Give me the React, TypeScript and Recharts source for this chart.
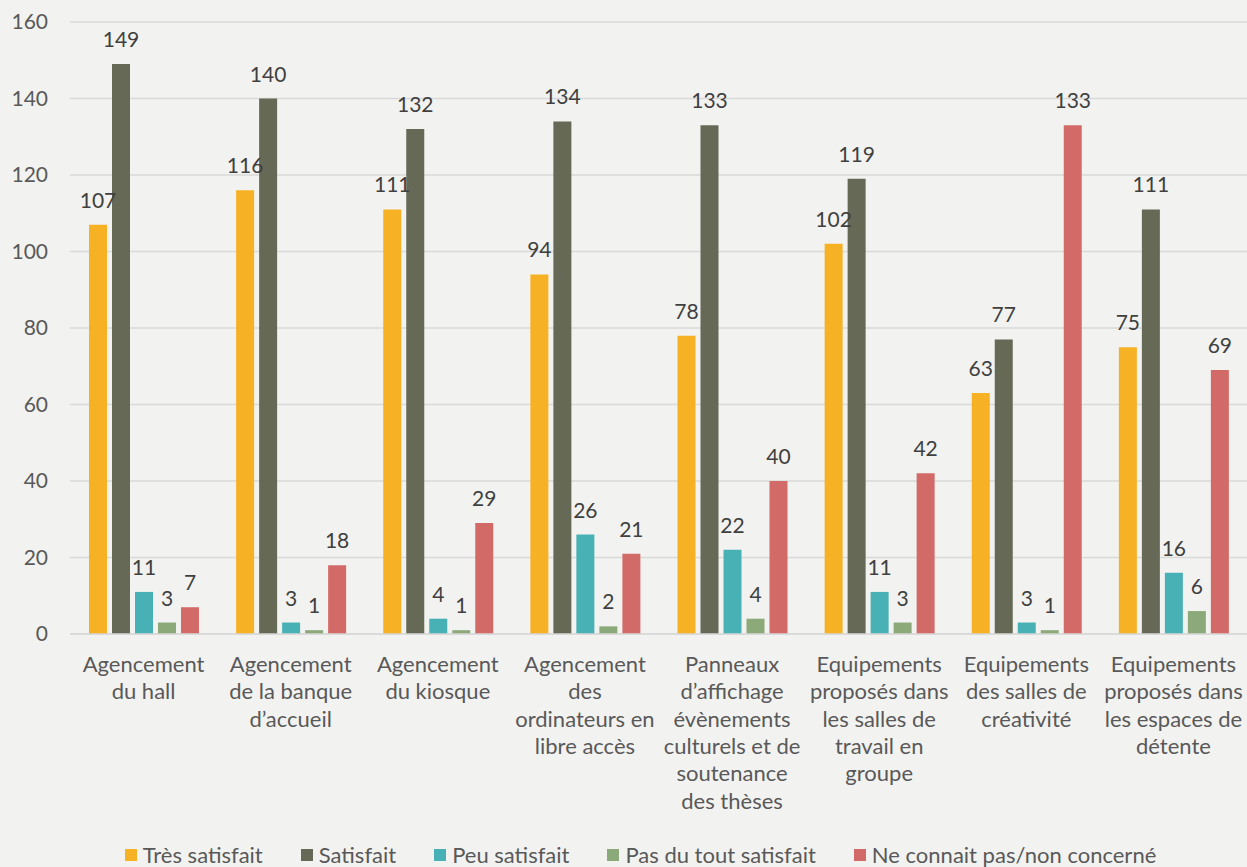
import React from 'react';
import { BarChart, Bar, XAxis, YAxis, CartesianGrid, Legend, LabelList } from 'recharts';

const categories = [
  'Agencement\ndu hall',
  'Agencement\nde la banque\nd’accueil',
  'Agencement\ndu kiosque',
  'Agencement\ndes\nordinateurs en\nlibre accès',
  'Panneaux\nd’affichage\névènements\nculturels et de\nsoutenance\ndes thèses',
  'Equipements\nproposés dans\nles salles de\ntravail en\ngroupe',
  'Equipements\ndes salles de\ncréativité',
  'Equipements\nproposés dans\nles espaces de\ndétente',
];
const tresSatisfait = [107, 116, 111, 94, 78, 102, 63, 75];
const satisfait = [149, 140, 132, 134, 133, 119, 77, 111];
const peuSatisfait = [11, 3, 4, 26, 22, 11, 3, 16];
const pasDuToutSatisfait = [3, 1, 1, 2, 4, 3, 1, 6];
const neConnaitPas = [7, 18, 29, 21, 40, 42, 133, 69];
const yTicks = [0, 20, 40, 60, 80, 100, 120, 140, 160];

const seriesNames = ['Très satisfait', 'Satisfait', 'Peu satisfait', 'Pas du tout satisfait', 'Ne connait pas/non concerné'];
const seriesKeys = ['s0', 's1', 's2', 's3', 's4'];
const seriesValues = [tresSatisfait, satisfait, peuSatisfait, pasDuToutSatisfait, neConnaitPas];
const colors = ['#F6B124', '#666955', '#47B1B5', '#8CA97A', '#D26B67'];

const data = categories.map((c, i) => {
  const row: any = { name: c };
  seriesKeys.forEach((k, j) => { row[k] = seriesValues[j][i]; });
  return row;
});

const FONT = 'Lato, "Open Sans", sans-serif';
const TEXT = '#595959';

const XTick = (props: any) => {
  const { x, y, payload } = props;
  const lines = String(payload.value).split('\n');
  return (
    <text x={x} y={y} textAnchor="middle" fill={TEXT} fontSize={22} fontFamily={FONT}>
      {lines.map((l, i) => (
        <tspan key={i} x={x} dy={i === 0 ? 30 : 27.3}>{l}</tspan>
      ))}
    </text>
  );
};

const LegendContent = () => (
  <div style={{ height: 45, display: 'flex', justifyContent: 'center', alignItems: 'flex-start', paddingTop: 20, paddingLeft: 34, boxSizing: 'border-box', fontFamily: FONT, fontSize: 22, color: TEXT }}>
    {seriesNames.map((n, i) => (
      <div key={n} style={{ display: 'flex', alignItems: 'center', marginRight: i < seriesNames.length - 1 ? 38 : 0, lineHeight: '26px' }}>
        <span style={{ display: 'inline-block', width: 12, height: 12, background: colors[i], marginRight: 6 }} />
        <span>{n}</span>
      </div>
    ))}
  </div>
);

export default function App() {
  return (
    <div style={{ width: 1247, height: 867, background: '#F2F2F0' }}>
      <style>{`body{margin:0;background:#F2F2F0}`}</style>
      <BarChart
        width={1247}
        height={867}
        data={data}
        margin={{ top: 22, right: 0, bottom: 0, left: 0 }}
        barSize={18}
        barGap={5}
      >
        <CartesianGrid vertical={false} stroke="#D9D9D9" strokeWidth={1.5} />
        <XAxis
          dataKey="name"
          interval={0}
          tickLine={false}
          axisLine={{ stroke: '#D9D9D9', strokeWidth: 1.5 }}
          height={188}
          tick={<XTick />}
        />
        <YAxis
          domain={[0, 160]}
          ticks={yTicks}
          width={70}
          axisLine={false}
          tickLine={false}
          tickMargin={16}
          tick={{ fill: TEXT, fontSize: 21, fontFamily: FONT }}
        />
        <Legend verticalAlign="bottom" content={<LegendContent />} wrapperStyle={{ left: 0, width: 1247 }} />
        {seriesKeys.map((k, i) => (
          <Bar key={k} dataKey={k} name={seriesNames[i]} fill={colors[i]} isAnimationActive={false}>
            <LabelList dataKey={k} position="top" offset={17} fill="#404040" fontSize={21} fontFamily={FONT} />
          </Bar>
        ))}
      </BarChart>
    </div>
  );
}
